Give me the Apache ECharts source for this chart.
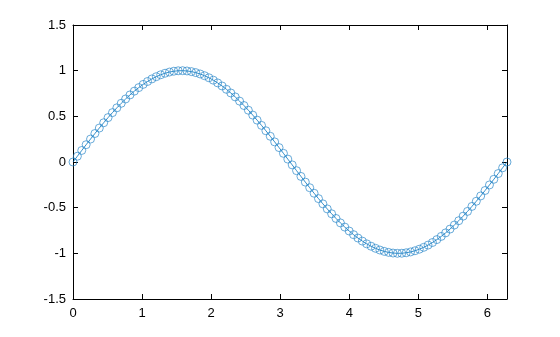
<!DOCTYPE html>
<html><head><meta charset="utf-8">
<script src="https://cdn.jsdelivr.net/npm/echarts@6/dist/echarts.min.js"></script>
<style>html,body{margin:0;padding:0;background:#fff}#c{width:560px;height:337px}</style>
</head><body><div id="c"></div>
<script>
const xValues = [0,0.0635,0.1269,0.1904,0.2539,0.3173,0.3808,0.4443,0.5077,0.5712,
0.6347,0.6981,0.7616,0.8251,0.8885,0.9520,1.0155,1.0789,1.1424,1.2059,
1.2693,1.3328,1.3963,1.4597,1.5232,1.5867,1.6501,1.7136,1.7771,1.8405,
1.9040,1.9675,2.0309,2.0944,2.1579,2.2213,2.2848,2.3483,2.4117,2.4752,
2.5387,2.6021,2.6656,2.7291,2.7925,2.8560,2.9195,2.9829,3.0464,3.1099,
3.1733,3.2368,3.3003,3.3637,3.4272,3.4907,3.5541,3.6176,3.6811,3.7445,
3.8080,3.8715,3.9349,3.9984,4.0619,4.1253,4.1888,4.2523,4.3157,4.3792,
4.4427,4.5061,4.5696,4.6331,4.6965,4.7600,4.8235,4.8869,4.9504,5.0139,
5.0773,5.1408,5.2043,5.2677,5.3312,5.3947,5.4581,5.5216,5.5851,5.6485,
5.7120,5.7755,5.8389,5.9024,5.9659,6.0293,6.0928,6.1563,6.2197,6.2832];
const yValues = [0,0.06342,0.12659,0.18925,0.25115,0.31203,0.37166,0.42979,0.48620,0.54064,
0.59290,0.64279,0.69008,0.73459,0.77615,0.81458,0.84973,0.88145,0.90963,0.93415,
0.95490,0.97181,0.98481,0.99384,0.99887,0.99987,0.99685,0.98982,0.97880,0.96384,
0.94500,0.92235,0.89599,0.86603,0.83257,0.79576,0.75575,0.71269,0.66677,0.61816,
0.56706,0.51368,0.45823,0.40093,0.34202,0.28173,0.22031,0.15800,0.09506,0.03173,
-0.03173,-0.09506,-0.15800,-0.22031,-0.28173,-0.34202,-0.40093,-0.45823,-0.51368,-0.56706,
-0.61816,-0.66677,-0.71269,-0.75575,-0.79576,-0.83257,-0.86603,-0.89599,-0.92235,-0.94500,
-0.96384,-0.97880,-0.98982,-0.99685,-0.99987,-0.99887,-0.99384,-0.98481,-0.97181,-0.95490,
-0.93415,-0.90963,-0.88145,-0.84973,-0.81458,-0.77615,-0.73459,-0.69008,-0.64279,-0.59290,
-0.54064,-0.48620,-0.42979,-0.37166,-0.31203,-0.25115,-0.18925,-0.12659,-0.06342,0];
const xTicks = [0,1,2,3,4,5,6];
const yTicks = [-1.5,-1,-0.5,0,0.5,1,1.5];

const xMin = 0, xMax = 6.2832, yMin = -1.5, yMax = 1.5;
const font = {fontFamily:'Liberation Sans, Arial, sans-serif', fontSize:13, color:'#000'};
const axisLine = {show:true, onZero:false, lineStyle:{color:'#000', width:1}};
const tick = {show:true, inside:true, length:5, lineStyle:{color:'#000', width:1}};

const chart = echarts.init(document.getElementById('c'), null, {renderer:'canvas'});
chart.setOption({
  animation:false,
  backgroundColor:'#fff',
  grid:{left:73, right:53, top:25, bottom:38, containLabel:false},
  xAxis:[
    {type:'value', min:xMin, max:xMax, interval:1, position:'bottom',
     axisLine:axisLine, axisTick:tick, splitLine:{show:false},
     axisLabel:Object.assign({margin:8, showMaxLabel:false,
       formatter:v=>xTicks.includes(v)?String(v):''}, font)},
    {type:'value', min:xMin, max:xMax, interval:1, position:'top',
     axisLine:axisLine, axisTick:tick, splitLine:{show:false}, axisLabel:{show:false}}
  ],
  yAxis:[
    {type:'value', min:yMin, max:yMax, interval:0.5, position:'left',
     axisLine:axisLine, axisTick:tick, splitLine:{show:false},
     axisLabel:Object.assign({margin:7, formatter:v=>yTicks.includes(v)?String(v):''}, font)},
    {type:'value', min:yMin, max:yMax, interval:0.5, position:'right',
     axisLine:axisLine, axisTick:tick, splitLine:{show:false}, axisLabel:{show:false}}
  ],
  series:[{
    type:'line',
    xAxisIndex:0, yAxisIndex:0,
    data:xValues.map((x,i)=>[x,yValues[i]]),
    symbol:'circle', symbolSize:8, showSymbol:true, showAllSymbol:true,
    color:'#0072BD',
    lineStyle:{color:'#0072BD', width:0.8},
    itemStyle:{color:'rgba(0,0,0,0)', borderColor:'#2a86c8', borderWidth:0.7},
    clip:false
  }]
});
</script></body></html>
